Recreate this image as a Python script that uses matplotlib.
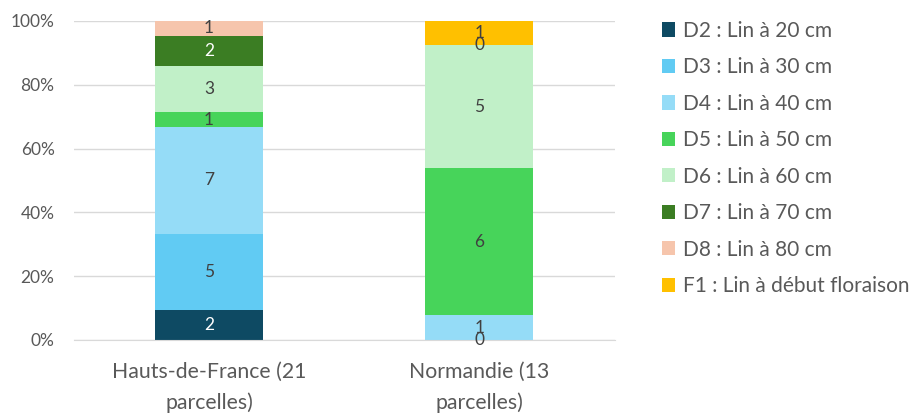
import matplotlib
matplotlib.use("Agg")
import matplotlib.pyplot as plt
import numpy as np

plt.rcParams['font.family'] = ['Lato', 'DejaVu Sans']

# ---- données ----
regions = ["Hauts-de-France (21\nparcelles)", "Normandie (13\nparcelles)"]
totals = [21, 13]
series = ["D2 : Lin à 20 cm", "D3 : Lin à 30 cm", "D4 : Lin à 40 cm", "D5 : Lin à 50 cm",
          "D6 : Lin à 60 cm", "D7 : Lin à 70 cm", "D8 : Lin à 80 cm", "F1 : Lin à début floraison"]
d2 = [2, 0]
d3 = [5, None]
d4 = [7, 1]
d5 = [1, 6]
d6 = [3, 5]
d7 = [2, 0]
d8 = [1, None]
f1 = [None, 1]
counts = [d2, d3, d4, d5, d6, d7, d8, f1]

colors = ["#0E4A63", "#61CBF3", "#95DCF7", "#47D45A", "#C1F0C8", "#3B7D23", "#F6C5AC", "#FFC000"]
txtcol = ["white", "#404040", "#404040", "#404040", "#404040", "white", "#404040", "#404040"]
GREY = "#595959"

fig = plt.figure(figsize=(9.2, 4.17), dpi=100, facecolor="white")
ax = fig.add_axes([0.0804, 0.1847, 0.5876, 0.7653])

x = np.arange(len(regions))
bottom = np.zeros(len(regions))
handles = []
for vals, name, c, tc in zip(counts, series, colors, txtcol):
    idx = [i for i, v in enumerate(vals) if v is not None]
    share = np.array([vals[i] / totals[i] for i in idx])
    bars = ax.bar(x[idx], share, 0.4, bottom=bottom[idx], color=c, label=name, zorder=2)
    txts = ax.bar_label(bars, labels=[str(vals[i]) for i in idx], label_type="center",
                        fontsize=12.5)
    for t, i in zip(txts, idx):
        # les étiquettes « 0 » restent grises (hors segment)
        t.set_color(tc if vals[i] > 0 else "#404040")
    bottom[idx] += share
    handles.append(bars)

ax.set_xlim(-0.5, 1.5)
ax.set_ylim(0, 1)
ax.set_yticks(np.arange(0, 1.01, 0.2))
ax.set_yticklabels([f"{int(round(v*100))}%" for v in np.arange(0, 1.01, 0.2)])
ax.set_xticks(x)
ax.set_xticklabels(regions, fontsize=15.3, color=GREY, linespacing=1.6)
ax.tick_params(axis="y", length=0, labelsize=12.5, labelcolor=GREY, pad=14)
ax.tick_params(axis="x", length=0, pad=16)
ax.grid(axis="y", color="#D9D9D9", lw=1, zorder=0)
for s in ("top", "right", "left"):
    ax.spines[s].set_visible(False)
ax.spines["bottom"].set_color("#D9D9D9")

fig.legend(handles=handles, labels=series, loc="upper left", bbox_to_anchor=(0.710, 0.970),
           frameon=False, fontsize=15, labelcolor=GREY, handlelength=0.67, handleheight=0.67,
           handletextpad=0.34, labelspacing=0.79, borderaxespad=0)

fig.savefig("out.png", dpi=100, facecolor="white")
